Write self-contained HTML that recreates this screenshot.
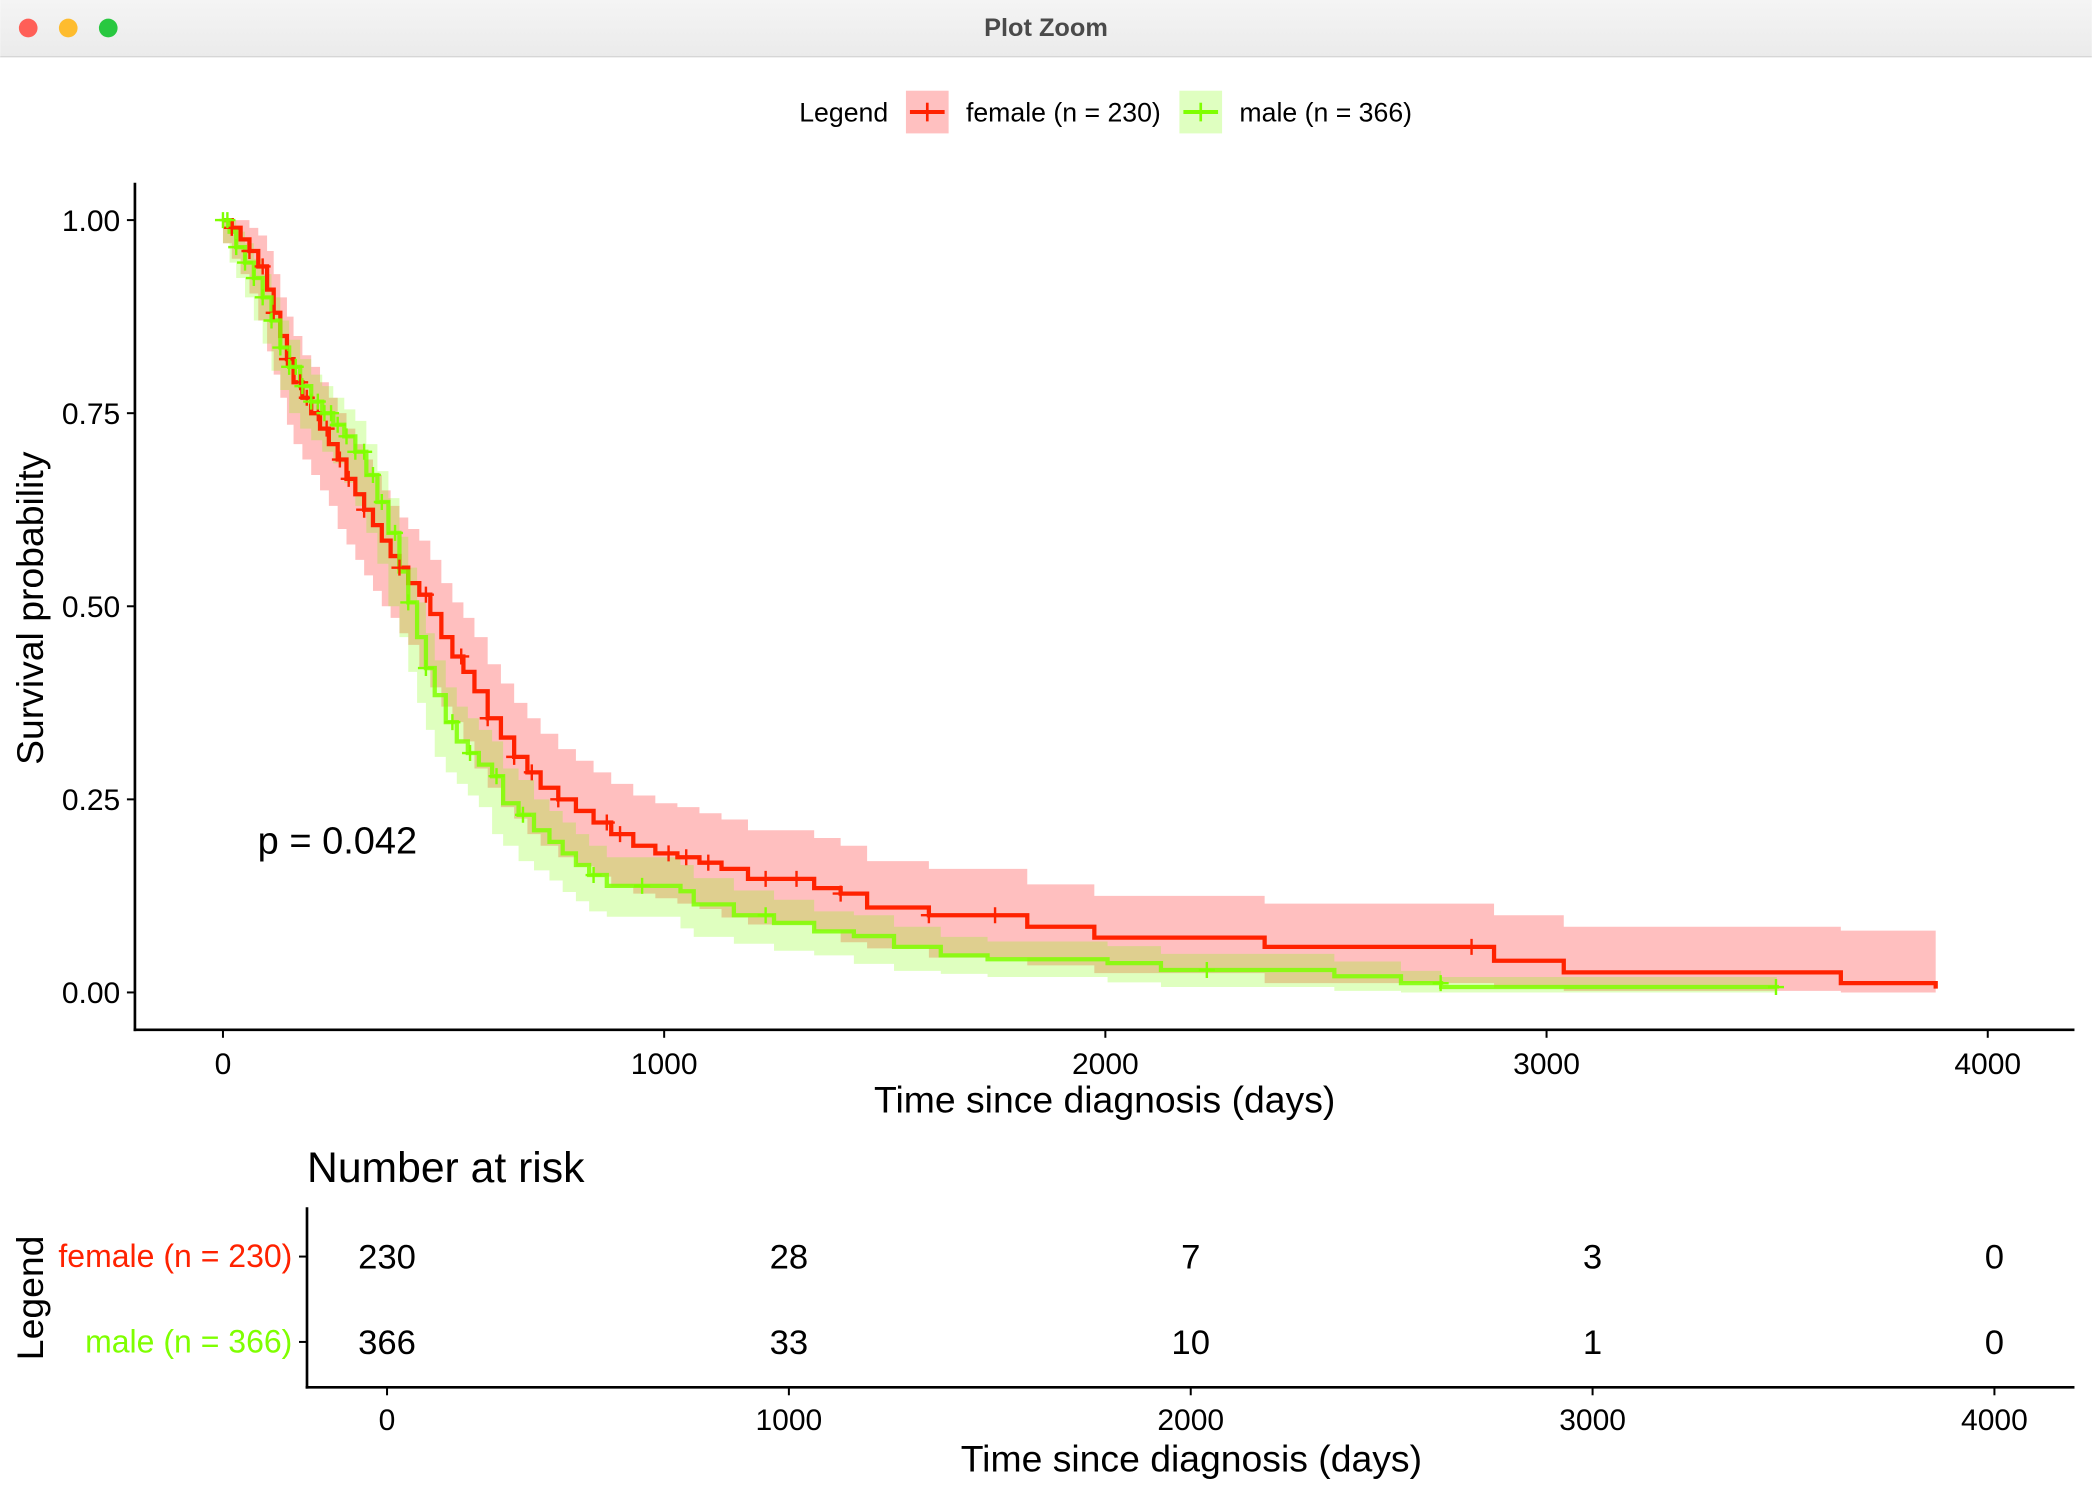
<!DOCTYPE html>
<html><head><meta charset="utf-8"><style>
html,body{margin:0;padding:0;background:#fff;width:2092px;height:1494px;overflow:hidden}
svg{display:block;font-family:"Liberation Sans",Arial,sans-serif}
</style></head><body>
<svg id="chart" width="2092" height="1494" viewBox="0 0 1568 1120" xmlns="http://www.w3.org/2000/svg">
<defs><linearGradient id="tb" x1="0" y1="0" x2="0" y2="1"><stop offset="0" stop-color="#f4f4f4"/><stop offset="1" stop-color="#ebebeb"/></linearGradient></defs>
<g>
<rect x="0" y="0" width="1568" height="42" fill="url(#tb)"/>
<line x1="0" y1="42.5" x2="1568" y2="42.5" stroke="#d6d6d6"/>
<circle cx="21" cy="21" r="7" fill="#ff5f57"/>
<circle cx="51" cy="21" r="7" fill="#febc2e"/>
<circle cx="81" cy="21" r="7" fill="#28c840"/>
<text x="784" y="27" text-anchor="middle" font-size="19" font-weight="bold" fill="#4a4a4a">Plot Zoom</text>
</g>
<g>
<text x="599" y="91" font-size="20">Legend</text>
<g>
<rect x="679" y="68" width="32" height="32" fill="#ffc0c0"/>
<line x1="682" y1="84" x2="708" y2="84" stroke="#ff2200" stroke-width="3"/>
<line x1="695" y1="77" x2="695" y2="91" stroke="#ff2200" stroke-width="2"/>
<text x="724" y="91" font-size="20">female (n = 230)</text></g>
<g>
<rect x="884" y="68" width="32" height="32" fill="#dfffc0"/>
<line x1="887" y1="84" x2="913" y2="84" stroke="#7fff00" stroke-width="3"/>
<line x1="900" y1="77" x2="900" y2="91" stroke="#7fff00" stroke-width="2"/>
<text x="929" y="91" font-size="20">male (n = 366)</text></g>
</g>
<g id="plot"></g>
<g id="risk"></g>
</svg>
<script>
const xTicks=[0,1000,2000,3000,4000];
const yTicks=[0,0.25,0.5,0.75,1.0];
const yTickLabels=["0.00","0.25","0.50","0.75","1.00"];
const femaleT=[0,20,40,60,80,100,115,130,145,160,180,200,220,240,260,280,300,320,340,360,380,400,420,445,470,495,520,545,570,600,630,660,690,720,760,800,840,880,930,980,1030,1080,1130,1190,1340,1400,1460,1600,1823,1975,2361,2881,3039,3667,3882];
const femaleS=[1,0.99,0.975,0.96,0.94,0.91,0.88,0.85,0.82,0.79,0.77,0.75,0.73,0.71,0.69,0.665,0.645,0.625,0.605,0.585,0.565,0.55,0.53,0.515,0.49,0.46,0.435,0.415,0.39,0.355,0.33,0.305,0.285,0.265,0.25,0.235,0.22,0.205,0.19,0.18,0.175,0.168,0.16,0.147,0.135,0.128,0.11,0.10,0.085,0.071,0.059,0.041,0.026,0.012,0.005];
const femaleUp=[1,1,1,0.99,0.98,0.96,0.93,0.9,0.875,0.85,0.825,0.81,0.79,0.77,0.75,0.73,0.71,0.69,0.67,0.65,0.63,0.615,0.6,0.585,0.56,0.53,0.505,0.485,0.46,0.425,0.4,0.375,0.355,0.335,0.315,0.3,0.285,0.27,0.255,0.245,0.24,0.232,0.224,0.21,0.2,0.19,0.17,0.16,0.14,0.125,0.115,0.1,0.085,0.08,0.08];
const femaleLo=[1,0.97,0.95,0.93,0.905,0.87,0.83,0.8,0.77,0.735,0.71,0.69,0.67,0.65,0.63,0.6,0.58,0.56,0.54,0.52,0.5,0.485,0.465,0.45,0.42,0.395,0.37,0.35,0.325,0.29,0.265,0.24,0.225,0.205,0.19,0.175,0.163,0.15,0.137,0.128,0.122,0.115,0.108,0.097,0.088,0.08,0.065,0.057,0.045,0.035,0.025,0.012,0.006,0.002,0];
const maleT=[0,15,30,50,70,90,110,130,150,175,200,225,250,275,300,325,350,375,400,420,440,460,480,505,530,555,580,610,635,670,705,740,770,800,830,870,1037,1067,1158,1249,1340,1430,1521,1627,1733,2005,2126,2519,2670,2761,3522];
const maleS=[1,0.985,0.965,0.945,0.925,0.9,0.87,0.835,0.81,0.785,0.765,0.75,0.735,0.72,0.7,0.67,0.635,0.595,0.545,0.505,0.46,0.42,0.385,0.35,0.325,0.31,0.295,0.28,0.245,0.23,0.21,0.195,0.18,0.165,0.152,0.138,0.131,0.114,0.10,0.09,0.079,0.073,0.059,0.048,0.043,0.038,0.029,0.021,0.012,0.007,0.005];
const maleUp=[1,1,0.985,0.97,0.95,0.93,0.9,0.87,0.845,0.82,0.8,0.785,0.77,0.755,0.74,0.71,0.675,0.64,0.59,0.55,0.505,0.465,0.43,0.395,0.37,0.355,0.34,0.325,0.29,0.275,0.25,0.235,0.22,0.205,0.19,0.175,0.165,0.148,0.132,0.12,0.105,0.1,0.085,0.072,0.066,0.06,0.05,0.04,0.028,0.02,0.018];
const maleLo=[1,0.97,0.945,0.925,0.9,0.87,0.84,0.805,0.78,0.75,0.73,0.715,0.7,0.685,0.66,0.63,0.595,0.555,0.5,0.46,0.415,0.375,0.34,0.305,0.285,0.27,0.255,0.24,0.205,0.19,0.17,0.158,0.145,0.13,0.118,0.105,0.098,0.083,0.072,0.063,0.054,0.048,0.037,0.028,0.024,0.02,0.013,0.007,0.002,0,0];
const femaleCensor=[20,60,90,115,145,175,190,215,235,265,285,320,400,460,540,600,660,700,760,870,900,1010,1050,1100,1230,1300,1400,1600,1750,2830];
const maleCensor=[0,10,30,50,70,90,110,130,150,165,180,200,215,230,245,260,280,300,320,340,360,390,420,460,520,560,620,680,840,950,1230,2230,2760,3520];
const riskTimes=[0,1000,2000,3000,4000];
const riskFemale=[230,28,7,3,0];
const riskMale=[366,33,10,1,0];
const pValueText="p = 0.042";

const NS="http://www.w3.org/2000/svg";
function mk(tag,attrs,parent,text){const e=document.createElementNS(NS,tag);for(const k in attrs)e.setAttribute(k,attrs[k]);if(text!==undefined)e.textContent=text;parent.appendChild(e);return e;}
const X=t=>167+t/4000*1323;
const Y=s=>744-s*579;
const plot=document.getElementById('plot');
function stepPath(T,S){let d='M'+X(T[0])+','+Y(S[0]);for(let i=1;i<T.length;i++){d+=' H'+X(T[i])+' V'+Y(S[i]);}return d;}
function bandPath(T,U,L){let d='M'+X(T[0])+','+Y(U[0]);for(let i=1;i<T.length;i++)d+=' H'+X(T[i])+' V'+Y(U[i]);for(let i=T.length-1;i>0;i--)d+=' V'+Y(L[i])+' H'+X(T[i-1]);d+=' V'+Y(L[0])+'Z';return d;}
function sAt(T,S,t){let s=S[0];for(let i=0;i<T.length;i++){if(T[i]<=t)s=S[i];}return s;}
const bf=mk('path',{d:bandPath(femaleT,femaleUp,femaleLo),fill:'#ff0000','fill-opacity':0.25},plot);


const bm=mk('path',{d:bandPath(maleT,maleUp,maleLo),fill:'#7fff00','fill-opacity':0.25},plot);


const lf=mk('path',{d:stepPath(femaleT,femaleS),fill:'none',stroke:'#ff2200','stroke-width':3.2},plot);


const lm=mk('path',{d:stepPath(maleT,maleS),fill:'none',stroke:'#7fff00','stroke-width':3.2,'stroke-opacity':0.85},plot);


function censors(C,T,S,col,name){const g=mk('g',{stroke:col,'stroke-width':1.8},plot);
for(const t of C){const x=X(t),y=Y(sAt(T,S,t));const p=mk('path',{d:`M${x-6},${y}H${x+6}M${x},${y-6}V${y+6}`},g);}}
censors(femaleCensor,femaleT,femaleS,'#ff2200','female-censor-marks');
censors(maleCensor,maleT,maleS,'#7fff00','male-censor-marks');
const ax=mk('g',{},plot);
mk('line',{x1:101,y1:137,x2:101,y2:773,stroke:'#000','stroke-width':2},ax);
mk('line',{x1:100,y1:772,x2:1555,y2:772,stroke:'#000','stroke-width':2},ax);
yTicks.forEach((v,i)=>{mk('line',{x1:95,y1:Y(v),x2:101,y2:Y(v),stroke:'#000','stroke-width':1.5},ax);
const t=mk('text',{x:90,y:Y(v)+8,'text-anchor':'end','font-size':22.5},ax,yTickLabels[i]);});
xTicks.forEach(v=>{mk('line',{x1:X(v),y1:772,x2:X(v),y2:778,stroke:'#000','stroke-width':1.5},ax);
const t=mk('text',{x:X(v),y:805,'text-anchor':'middle','font-size':22.5},ax,String(v));});
const xt=mk('text',{x:828,y:834,'text-anchor':'middle','font-size':28},ax,'Time since diagnosis (days)');
const yt=mk('text',{x:0,y:0,transform:'translate(32,456) rotate(-90)','text-anchor':'middle','font-size':28},ax,'Survival probability');
const pv=mk('text',{x:193,y:640,'font-size':28.5},plot,pValueText);
const risk=document.getElementById('risk');
const RX=t=>290+t/4000*1205;
const rt=mk('text',{x:230,y:886,'font-size':32},risk,'Number at risk');
mk('line',{x1:230,y1:905,x2:230,y2:1041,stroke:'#000','stroke-width':2},risk);
mk('line',{x1:229,y1:1040,x2:1555,y2:1040,stroke:'#000','stroke-width':2},risk);
[[942,'female (n = 230)','#ff2200',riskFemale],[1006,'male (n = 366)','#7fff00',riskMale]].forEach(r=>{
mk('line',{x1:224,y1:r[0],x2:230,y2:r[0],stroke:'#000','stroke-width':1.5},risk);
const l=mk('text',{x:219,y:r[0]+8,'text-anchor':'end','font-size':24,fill:r[2]},risk,r[1]);
riskTimes.forEach((t,i)=>{const n=mk('text',{x:RX(t),y:r[0]+9,'text-anchor':'middle','font-size':26},risk,String(r[3][i]));});});
riskTimes.forEach(v=>{mk('line',{x1:RX(v),y1:1040,x2:RX(v),y2:1046,stroke:'#000','stroke-width':1.5},risk);
const t=mk('text',{x:RX(v),y:1072,'text-anchor':'middle','font-size':22.5},risk,String(v));});
const rx=mk('text',{x:893,y:1103,'text-anchor':'middle','font-size':28},risk,'Time since diagnosis (days)');
const ry=mk('text',{x:0,y:0,transform:'translate(32,973) rotate(-90)','text-anchor':'middle','font-size':28},risk,'Legend');
</script>
</body></html>
